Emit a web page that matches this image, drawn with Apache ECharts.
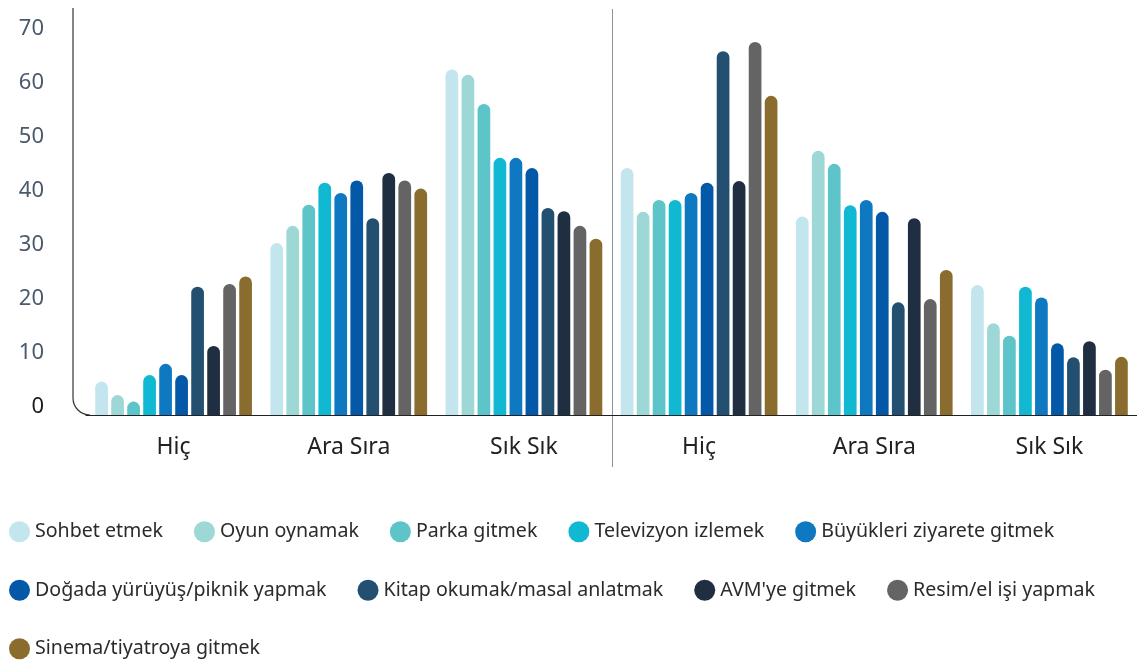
<!DOCTYPE html>
<html>
<head>
<meta charset="utf-8">
<script src="https://cdn.jsdelivr.net/npm/echarts@6/dist/echarts.min.js"></script>
<style>
  html, body { margin: 0; padding: 0; background: #fff; }
  #chart { width: 1137px; height: 662px; }
</style>
</head>
<body>
<div id="chart"></div>
<script>
// categories (two halves of the chart, same answer scale)
const categories = ['Hiç', 'Ara Sıra', 'Sık Sık', 'Hiç ', 'Ara Sıra ', 'Sık Sık '];

const seriesNames = [
  'Sohbet etmek', 'Oyun oynamak', 'Parka gitmek', 'Televizyon izlemek',
  'Büyükleri ziyarete gitmek', 'Doğada yürüyüş/piknik yapmak',
  'Kitap okumak/masal anlatmak', "AVM'ye gitmek", 'Resim/el işi yapmak',
  'Sinema/tiyatroya gitmek'
];

// values per series, one per category
const sohbet  = [6.2, 31.9, 64.1, 45.8, 36.8, 24.1];
const oyun    = [3.7, 35.1, 63.1, 37.7, 49.0, 17.0];
const parka   = [2.5, 39.0, 57.7, 39.9, 46.6, 14.7];
const tv      = [7.4, 43.1, 47.7, 39.9, 38.9, 23.8];
const buyuk   = [9.5, 41.2, 47.7, 41.2, 39.9, 21.8];
const doga    = [7.4, 43.5, 45.8, 43.1, 37.7, 13.3];
const kitap   = [23.8, 36.5, 38.4, 67.5, 20.9, 10.7];
const avm     = [12.8, 44.9, 37.8, 43.4, 36.5, 13.7];
const resim   = [24.3, 43.5, 35.1, 69.2, 21.5, 8.4];
const sinema  = [25.7, 42.0, 32.7, 59.2, 26.9, 10.8];

const values = [sohbet, oyun, parka, tv, buyuk, doga, kitap, avm, resim, sinema];

const colors = ['#c2e5ee', '#9dd8d6', '#5dc5c9', '#10b8d1', '#0e79c1',
                '#0358a8', '#234f70', '#1f2e41', '#646464', '#8a6d2e'];

const yTicks = [0, 10, 20, 30, 40, 50, 60, 70];

const font = 'Noto Sans';
const gridLeft = 86, gridTop = 8, gridBottom = 247, axisX = 73, corner = 17;
const baseY = 662 - gridBottom;

const chart = echarts.init(document.getElementById('chart'));

const series = seriesNames.map((name, i) => ({
  name: name,
  type: 'bar',
  data: values[i],
  barWidth: 12.7,
  barGap: '26%',
  itemStyle: { color: colors[i], borderRadius: [6.4, 6.4, 0, 0] },
  emphasis: { disabled: true }
}));

chart.setOption({
  animation: false,
  color: colors,
  textStyle: { fontFamily: font },
  grid: { left: gridLeft, right: -8, top: gridTop, bottom: gridBottom, containLabel: false },
  xAxis: {
    type: 'category',
    data: categories,
    axisLine: { show: true, lineStyle: { color: '#222', width: 1.2 } },
    axisTick: { show: false },
    splitLine: { show: false },
    axisLabel: {
      fontSize: 23,
      color: '#222',
      margin: 21,
      formatter: (v) => v.trim()
    }
  },
  yAxis: {
    type: 'value',
    min: 0,
    max: 75.5,
    interval: 10,
    offset: gridLeft - axisX,
    axisLine: { show: false },
    axisTick: { show: false },
    splitLine: { show: false },
    axisLabel: {
      showMaxLabel: false,
      fontSize: 22,
      margin: 29,
      verticalAlign: 'bottom',
      lineHeight: 17,
      color: (v) => (Number(v) === 0 ? '#1a1a1a' : '#4a5a6c'),
      formatter: (v) => (yTicks.indexOf(v) >= 0 ? String(v) : '')
    }
  },
  legend: {
    data: seriesNames,
    left: 9,
    top: 518,
    width: 1120,
    padding: 0,
    icon: 'circle',
    itemWidth: 21,
    itemHeight: 21,
    itemGap: 31,
    textStyle: { fontSize: 19.6, color: '#2b2b2b', lineHeight: 27.5, fontFamily: font },
    selectedMode: false
  },
  series: series
});

// separator between the two halves: midway between the 3rd and 4th category
const sepX = Math.round((chart.convertToPixel({ xAxisIndex: 0 }, categories[2]) +
                         chart.convertToPixel({ xAxisIndex: 0 }, categories[3])) / 2) + 0.5;

chart.setOption({
  graphic: [{
    type: 'line',
    silent: true,
    shape: { x1: axisX, y1: gridTop, x2: axisX, y2: baseY - corner },
    style: { stroke: '#333', lineWidth: 1.2 }
  }, {
    type: 'arc',
    silent: true,
    shape: { cx: axisX + corner, cy: baseY - corner, r: corner, startAngle: Math.PI / 2, endAngle: Math.PI },
    style: { fill: 'none', stroke: '#333', lineWidth: 1.2 }
  }, {
    type: 'line',
    silent: true,
    shape: { x1: axisX + corner, y1: baseY, x2: gridLeft + 4, y2: baseY },
    style: { stroke: '#222', lineWidth: 1.2 }
  }, {
    type: 'line',
    silent: true,
    shape: { x1: sepX, y1: gridTop + 1, x2: sepX, y2: baseY + 52 },
    style: { stroke: '#8c939b', lineWidth: 1 }
  }]
});
</script>
</body>
</html>
